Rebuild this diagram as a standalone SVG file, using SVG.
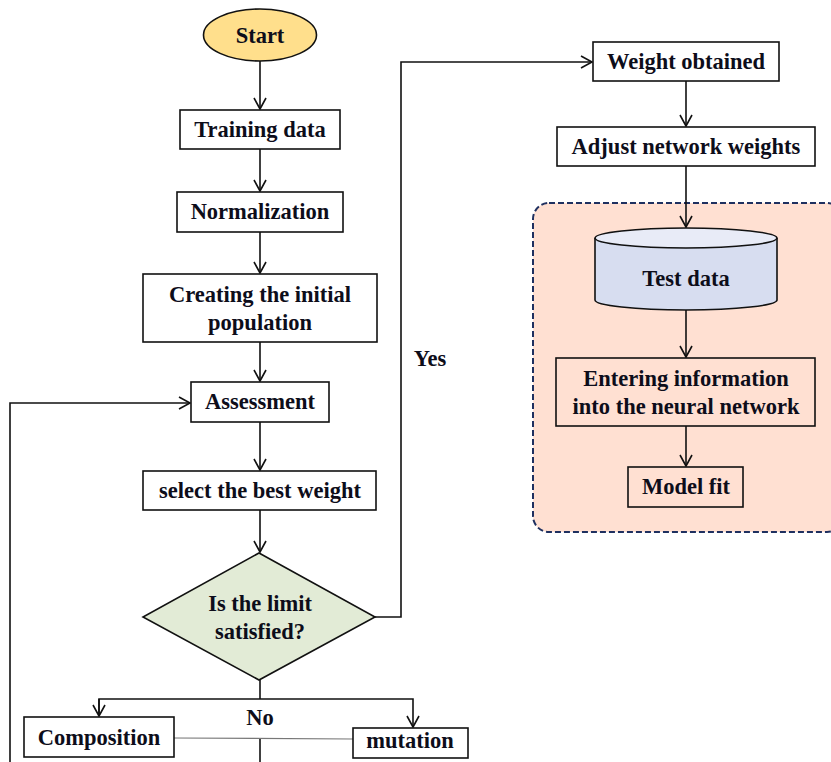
<svg xmlns="http://www.w3.org/2000/svg" width="831" height="762" viewBox="0 0 831 762">
<style>
.box{fill:#fff;stroke:#111;stroke-width:1.6}
.t{font-family:"Liberation Serif","Times New Roman",serif;font-weight:bold;font-size:22.5px;fill:#0d0d1a;text-anchor:middle}
.c{fill:none;stroke:#111;stroke-width:1.6}
</style>
<defs>
<marker id="ah" viewBox="0 0 14 14" refX="12" refY="7" markerWidth="14" markerHeight="14" markerUnits="userSpaceOnUse" orient="auto">
<path d="M1,1 L12,7 L1,13" fill="none" stroke="#111" stroke-width="1.6"/>
</marker>
</defs>
<rect width="831" height="762" fill="#fff"/>
<g id="container">
<rect x="533" y="203" width="310" height="329" rx="16" fill="#FFE0D2" stroke="#1F3060" stroke-width="2" stroke-dasharray="6,3"/>
</g>
<g id="connectors">
<line class="c" x1="260" y1="61" x2="260" y2="109" marker-end="url(#ah)"/>
<line class="c" x1="260" y1="149" x2="260" y2="191" marker-end="url(#ah)"/>
<line class="c" x1="260" y1="232" x2="260" y2="273" marker-end="url(#ah)"/>
<line class="c" x1="260" y1="342" x2="260" y2="381" marker-end="url(#ah)"/>
<line class="c" x1="260" y1="422" x2="260" y2="470" marker-end="url(#ah)"/>
<line class="c" x1="260" y1="510" x2="260" y2="552" marker-end="url(#ah)"/>
<polyline class="c" points="375,617 401,617 401,62 592,62" marker-end="url(#ah)"/>
<line class="c" x1="686" y1="81" x2="686" y2="126" marker-end="url(#ah)"/>
<line class="c" x1="686" y1="166" x2="686" y2="227" marker-end="url(#ah)"/>
<line class="c" x1="686" y1="310" x2="686" y2="357" marker-end="url(#ah)"/>
<line class="c" x1="686" y1="426" x2="686" y2="466" marker-end="url(#ah)"/>
<line class="c" x1="260" y1="680" x2="260" y2="699"/>
<polyline class="c" points="99,716 99,699 413,699 413,727" marker-end="url(#ah)"/>
<line class="c" x1="99" y1="699" x2="99" y2="716" marker-end="url(#ah)"/>
<line x1="174" y1="738" x2="353" y2="739" stroke="#777" stroke-width="1.2"/>
<line class="c" x1="260" y1="739" x2="260" y2="762"/>
<polyline class="c" points="10,762 10,403 190,403" marker-end="url(#ah)"/>
<text class="t" x="430" y="366">Yes</text>
<text class="t" x="260" y="725">No</text>
</g>
<g id="start">
<ellipse cx="260" cy="35" rx="56.5" ry="26" fill="#FFDF8C" stroke="#111" stroke-width="1.6"/>
<text class="t" x="260" y="43">Start</text>
</g>
<g id="training">
<rect class="box" x="180" y="110" width="160" height="39"/>
<text class="t" x="260" y="137">Training data</text>
</g>
<g id="normalization">
<rect class="box" x="177" y="192" width="166" height="40"/>
<text class="t" x="260" y="219">Normalization</text>
</g>
<g id="population">
<rect class="box" x="143" y="274" width="234" height="68"/>
<text class="t" x="260" y="302">Creating the initial</text>
<text class="t" x="260" y="330">population</text>
</g>
<g id="assessment">
<rect class="box" x="191" y="382" width="138" height="40"/>
<text class="t" x="260" y="409">Assessment</text>
</g>
<g id="select">
<rect class="box" x="143" y="471" width="233" height="39"/>
<text class="t" x="260" y="498">select the best weight</text>
</g>
<g id="decision">
<polygon points="259,553 375,617 259,680 143,617" fill="#E2EBD6" stroke="#111" stroke-width="1.6"/>
<text class="t" x="260" y="611">Is the limit</text>
<text class="t" x="260" y="639">satisfied?</text>
</g>
<g id="composition">
<rect class="box" x="24" y="717" width="150" height="40"/>
<text class="t" x="99" y="745">Composition</text>
</g>
<g id="mutation">
<rect class="box" x="353" y="728" width="115" height="30"/>
<text class="t" x="410" y="748">mutation</text>
</g>
<g id="weight">
<rect class="box" x="593" y="42" width="186" height="39"/>
<text class="t" x="686" y="69">Weight obtained</text>
</g>
<g id="adjust">
<rect class="box" x="557" y="127" width="258" height="39"/>
<text class="t" x="686" y="154">Adjust network weights</text>
</g>
<g id="testdata">
<path d="M595,238 L595,300 A91,10 0 0 0 777,300 L777,238" fill="#D7DDF0" stroke="#111" stroke-width="1.6"/>
<ellipse cx="686" cy="238" rx="91" ry="10" fill="#E8EBF7" stroke="#111" stroke-width="1.6"/>
<text class="t" x="686" y="286">Test data</text>
</g>
<g id="entering">
<rect x="556" y="358" width="259" height="68" fill="#FFE0D2" stroke="#111" stroke-width="1.6"/>
<text class="t" x="686" y="386">Entering information</text>
<text class="t" x="686" y="414">into the neural network</text>
</g>
<g id="modelfit">
<rect x="628" y="467" width="115" height="40" fill="#FFE0D2" stroke="#111" stroke-width="1.6"/>
<text class="t" x="686" y="494">Model fit</text>
</g>
</svg>
